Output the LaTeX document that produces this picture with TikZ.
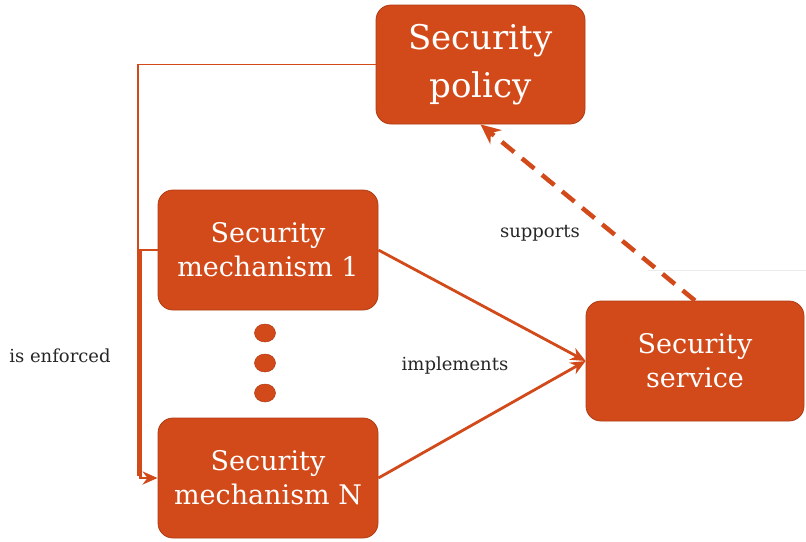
\documentclass[tikz,border=0pt]{standalone}
\usepackage{fontspec}
\setmainfont{DejaVu Serif}
\usetikzlibrary{arrows.meta,shapes.geometric}

\definecolor{rust}{HTML}{D2491A}
\definecolor{rustdark}{HTML}{B03C14}

\begin{document}
\begin{tikzpicture}[x=1pt,y=-1pt,
    box/.style={draw=rustdark, line width=0.8pt, fill=rust, text=white,
      rounded corners=15pt, inner sep=0pt, align=center,
      minimum width=220pt, minimum height=120pt},
    dot/.style={ellipse, fill=rust, draw=rustdark, line width=0.5pt,
      minimum width=21pt, minimum height=18pt, inner sep=0pt},
    lbl/.style={font=\fontsize{18}{21}\selectfont, text=black!85},
    link/.style={draw=rust, line width=2.8pt, -{Stealth[length=15pt,width=13pt]}},
    thinlink/.style={draw=rust, line width=1.3pt}]
    \useasboundingbox (0,0) rectangle (806,541);
    % faint rule
    \draw [black!8, line width=0.8pt] (648,270) -- (806,270);
    % policy
    \node [box, minimum width=209pt, minimum height=119pt,
      font=\fontsize{34}{48}\selectfont] (policy) at (480.5,64.5) {Security\\policy};
    % mechanisms
    \node [box, font=\fontsize{27}{34}\selectfont] (mechA) at (268,250) {Security\\mechanism 1};
    \node [box, font=\fontsize{27}{34}\selectfont] (mechN) at (268,478) {Security\\mechanism N};
    % dots
    \node [dot] (d1) at (265,333) {};
    \node [dot] (d2) at (265,363) {};
    \node [dot] (d3) at (265,393) {};
    % service
    \node [box, minimum width=218pt, font=\fontsize{27}{34}\selectfont] (service) at (695,361) {Security\\service};
    % is enforced
    \coordinate (enf) at (138,476);
    \draw [thinlink] (policy.west) -| (enf);
    \draw [link] (mechA.west) -- ++(-17,0) |- (mechN.west);
    \node [lbl] (enforced) at (60,356) {is enforced};
    % implements
    \draw [link] (mechA.east) -- (service.west);
    \draw [link] (mechN.east) -- (service.west);
    \node [lbl] (implements) at (455,366) {implements};
    % supports
    \draw [draw=rust, line width=4.5pt, dash pattern=on 16pt off 10pt,
      -{Stealth[length=20pt,width=18pt]}] (service.north) -- (policy.south);
    \node [lbl] (supports) at (540,233) {supports};
  \end{tikzpicture}
\end{document}
